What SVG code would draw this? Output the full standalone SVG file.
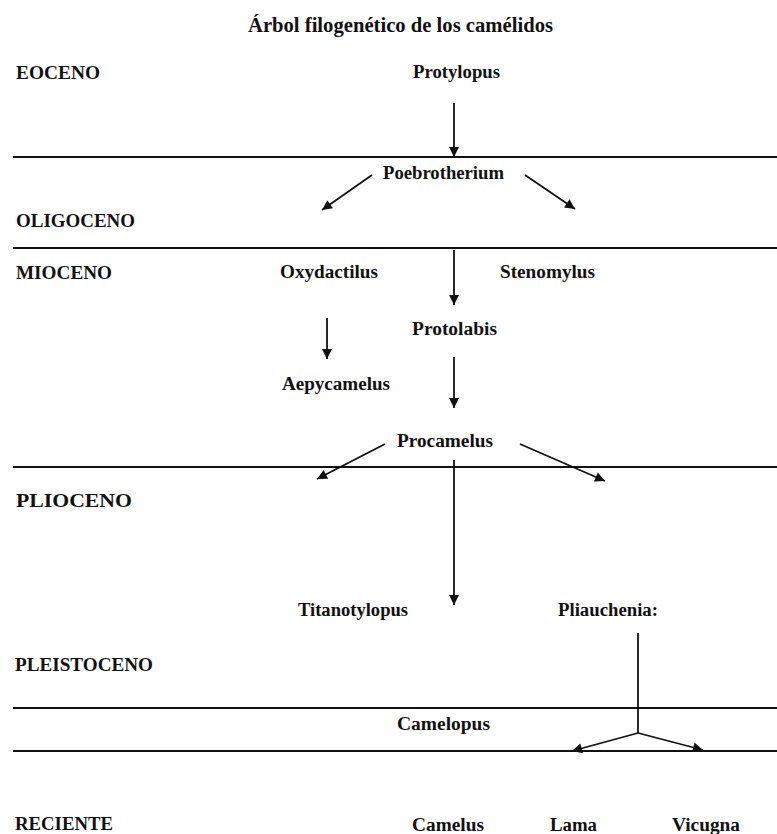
<svg xmlns="http://www.w3.org/2000/svg" width="777" height="834" viewBox="0 0 777 834">
<defs>
<style>
text{font-family:"Liberation Serif","Times New Roman",serif;font-weight:bold;fill:#111}
.title{font-size:20px}
.era{font-size:19px}
.gen{font-size:18px}
.hl{stroke:#111;stroke-width:2.2;fill:none}
.ar{stroke:#111;stroke-width:1.8;fill:none}
</style>
<marker id="ah" viewBox="0 0 10 10" refX="10" refY="5" markerWidth="11" markerHeight="10" markerUnits="userSpaceOnUse" orient="auto">
<path d="M0,0 L10,5 L0,10 z" fill="#111"/>
</marker>
</defs>
<rect width="777" height="834" fill="#fff"/>
<text class="title" x="248" y="32" textLength="305" lengthAdjust="spacingAndGlyphs">Árbol filogenético de los camélidos</text>
<g id="eras">
<text class="era" x="16" y="79" textLength="84" lengthAdjust="spacingAndGlyphs">EOCENO</text>
<text class="era" x="16" y="227" textLength="119" lengthAdjust="spacingAndGlyphs">OLIGOCENO</text>
<text class="era" x="16" y="279" textLength="96" lengthAdjust="spacingAndGlyphs">MIOCENO</text>
<text class="era" x="16" y="507" textLength="116" lengthAdjust="spacingAndGlyphs">PLIOCENO</text>
<text class="era" x="15" y="671" textLength="138" lengthAdjust="spacingAndGlyphs">PLEISTOCENO</text>
<text class="era" x="15" y="830" textLength="98" lengthAdjust="spacingAndGlyphs">RECIENTE</text>
</g>
<g id="boundaries">
<line class="hl" x1="13" y1="157" x2="777" y2="157"/>
<line class="hl" x1="13" y1="248" x2="777" y2="248"/>
<line class="hl" x1="13" y1="467" x2="777" y2="467"/>
<line class="hl" x1="13" y1="708" x2="777" y2="708"/>
<line class="hl" x1="13" y1="751" x2="777" y2="751"/>
</g>
<g id="n-protylopus"><text class="gen" x="413" y="78" textLength="87" lengthAdjust="spacingAndGlyphs">Protylopus</text></g>
<g id="n-poebrotherium"><text class="gen" x="383" y="179" textLength="121" lengthAdjust="spacingAndGlyphs">Poebrotherium</text></g>
<g id="n-oxydactilus"><text class="gen" x="280" y="278" textLength="98" lengthAdjust="spacingAndGlyphs">Oxydactilus</text></g>
<g id="n-stenomylus"><text class="gen" x="500" y="278" textLength="95" lengthAdjust="spacingAndGlyphs">Stenomylus</text></g>
<g id="n-protolabis"><text class="gen" x="412" y="335" textLength="85" lengthAdjust="spacingAndGlyphs">Protolabis</text></g>
<g id="n-aepycamelus"><text class="gen" x="282" y="390" textLength="108" lengthAdjust="spacingAndGlyphs">Aepycamelus</text></g>
<g id="n-procamelus"><text class="gen" x="397" y="447" textLength="96" lengthAdjust="spacingAndGlyphs">Procamelus</text></g>
<g id="n-titanotylopus"><text class="gen" x="298" y="616" textLength="110" lengthAdjust="spacingAndGlyphs">Titanotylopus</text></g>
<g id="n-pliauchenia"><text class="gen" x="558" y="616" textLength="100" lengthAdjust="spacingAndGlyphs">Pliauchenia:</text></g>
<g id="n-camelopus"><text class="gen" x="397" y="730" textLength="93" lengthAdjust="spacingAndGlyphs">Camelopus</text></g>
<g id="n-camelus"><text class="gen" x="412" y="831" textLength="72" lengthAdjust="spacingAndGlyphs">Camelus</text></g>
<g id="n-lama"><text class="gen" x="550" y="831" textLength="47" lengthAdjust="spacingAndGlyphs">Lama</text></g>
<g id="n-vicugna"><text class="gen" x="672" y="831" textLength="68" lengthAdjust="spacingAndGlyphs">Vicugna</text></g>
<g id="connectors">
<line class="ar" x1="454" y1="103" x2="454" y2="157" marker-end="url(#ah)"/>
<line class="ar" x1="372" y1="175" x2="322" y2="210" marker-end="url(#ah)"/>
<line class="ar" x1="525" y1="175" x2="575" y2="209" marker-end="url(#ah)"/>
<line class="ar" x1="454" y1="250" x2="454" y2="305" marker-end="url(#ah)"/>
<line class="ar" x1="327" y1="318" x2="327" y2="359" marker-end="url(#ah)"/>
<line class="ar" x1="454" y1="357" x2="454" y2="408" marker-end="url(#ah)"/>
<line class="ar" x1="385" y1="444" x2="317" y2="479" marker-end="url(#ah)"/>
<line class="ar" x1="520" y1="444" x2="605" y2="481" marker-end="url(#ah)"/>
<line class="ar" x1="454" y1="460" x2="454" y2="605" marker-end="url(#ah)"/>
<line class="ar" x1="638" y1="633" x2="638" y2="733"/>
<line class="ar" x1="638" y1="733" x2="572" y2="751" marker-end="url(#ah)"/>
<line class="ar" x1="638" y1="733" x2="703" y2="750" marker-end="url(#ah)"/>
</g>
</svg>
